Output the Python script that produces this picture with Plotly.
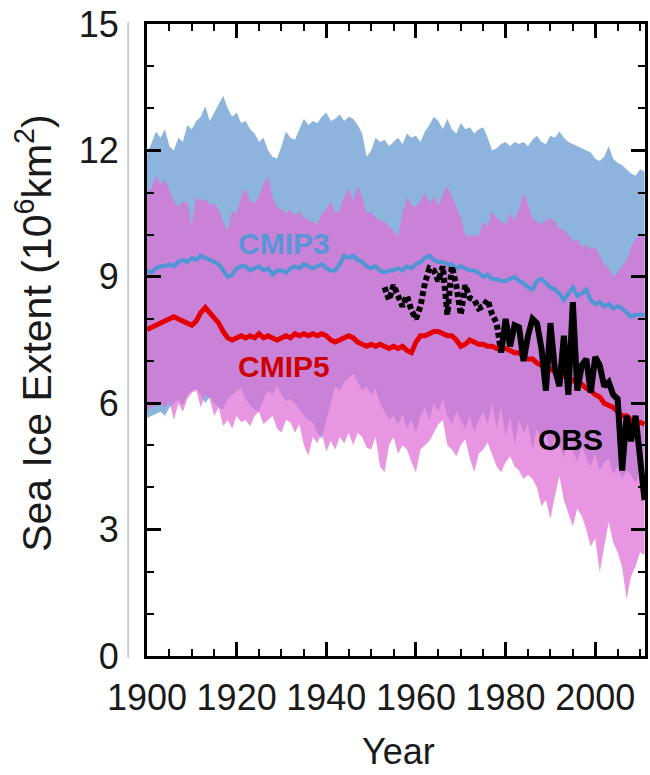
import plotly.graph_objects as go

years = list(range(1900, 2012))

cmip3_upper = [11.9, 12.2, 12.45, 12.3, 12.5, 12.1, 12.0, 12.3, 12.2, 12.6,
               12.5, 12.7, 12.8, 13.05, 12.7, 12.9, 13.1, 13.3, 13.0, 12.8,
               12.9, 12.65, 12.7, 12.5, 12.4, 12.2, 12.3, 12.0, 11.85, 11.8,
               12.1, 12.45, 12.3, 12.25, 12.5, 12.75, 12.6, 12.7, 12.65, 12.8,
               12.9, 12.7, 12.75, 12.85, 12.7, 12.8, 12.75, 12.6, 12.4, 11.85,
               12.0, 12.3, 12.2, 12.25, 12.1, 12.2, 12.3, 12.15, 12.4, 12.3,
               12.35, 12.2, 12.45, 12.6, 12.8, 12.7, 12.5, 12.75, 12.5, 12.4,
               12.65, 12.5, 12.55, 12.4, 12.5, 12.55, 12.3, 12.0, 12.05, 12.15,
               12.2, 12.1, 12.2, 12.15, 12.2, 12.1, 12.25, 12.35, 12.2, 12.15,
               12.35, 12.3, 12.45, 12.3, 12.2, 12.15, 12.1, 12.05, 12.0, 11.95,
               11.8, 11.75, 11.85, 12.1, 11.8, 11.7, 11.65, 11.55, 11.45, 11.4,
               11.55, 11.5]

cmip3_lower = [5.65, 5.7, 5.75, 5.8, 5.7, 5.9, 6.0, 6.1, 5.95, 6.2,
               6.3, 6.35, 6.2, 6.0, 6.15, 6.0, 5.9, 5.85, 6.1, 6.2,
               6.3, 6.35, 6.1, 5.95, 5.85, 5.8, 6.1, 6.3, 6.2, 6.4,
               6.2, 6.05, 6.1, 6.0, 5.85, 5.7, 5.6, 5.55, 5.3, 5.15,
               5.6, 6.0, 6.4, 6.3, 6.5, 6.6, 6.7, 6.5, 6.3, 6.4,
               6.2, 6.35, 6.0, 5.8, 5.6, 5.7, 5.5, 5.75, 5.4, 5.6,
               5.3, 5.7, 5.9, 5.6, 6.0, 5.8, 6.1, 5.7, 5.5, 5.8,
               5.6, 5.4, 5.7, 5.3, 5.6, 5.8, 5.5, 6.0, 5.4, 5.9,
               5.2, 5.7, 5.0, 5.6, 5.3, 5.5, 4.9, 5.4, 5.1, 5.3,
               4.8, 5.2, 5.0, 4.7, 5.1, 4.9, 4.6, 5.0, 4.7, 4.5,
               4.8, 4.4, 4.6, 4.7, 4.3, 4.5, 4.2, 4.4, 4.3, 4.1,
               4.4, 4.3]

cmip5_upper = [11.0, 11.1, 11.4, 11.2, 11.3, 11.05, 10.8, 10.65, 10.8, 10.75,
               10.2, 10.9, 10.8, 10.85, 10.7, 10.75, 10.6, 10.3, 10.1, 10.55,
               10.5, 10.9, 11.1, 10.8, 10.75, 10.9, 11.2, 11.4, 10.9, 10.65,
               10.6, 10.5, 10.6, 10.45, 10.55, 10.4, 10.35, 10.3, 10.25, 10.5,
               10.6, 10.8, 10.5, 10.6, 10.9, 11.1, 10.8, 11.15, 10.9, 10.5,
               10.55, 10.4, 10.35, 10.3, 10.2, 10.1, 9.95, 10.5, 10.9, 10.7,
               10.65, 10.8, 11.0, 10.75, 10.9, 10.7, 10.95, 11.15, 10.9, 10.65,
               10.4, 10.0, 9.95, 10.0, 9.95, 10.3, 10.2, 10.55, 10.4, 10.3,
               10.25, 10.5, 10.35, 10.6, 11.0, 10.7, 10.4, 10.3, 10.25, 10.35,
               10.4, 10.3, 10.15, 10.1, 10.0, 9.85, 9.9, 9.7, 9.75, 9.65,
               9.7, 9.5, 9.3, 9.2, 9.0, 9.1, 9.25, 9.4, 9.7, 9.9,
               10.0, 10.0]

cmip5_lower = [5.85, 5.9, 5.95, 6.0, 5.9, 6.05, 5.6, 6.0, 5.8, 6.1,
               6.25, 6.3, 5.9, 6.2, 6.1, 5.7, 5.9, 5.45, 5.6, 5.4,
               5.7, 5.55, 5.6, 5.45, 5.7, 5.8, 5.5, 5.6, 5.7, 5.4,
               5.3, 5.6, 5.55, 5.3, 5.5, 5.0, 4.75, 5.2, 5.05, 5.3,
               4.85, 5.1, 4.9, 5.2, 5.05, 5.3, 5.0, 5.3, 5.2, 4.95,
               4.9, 5.2, 4.5, 4.36, 5.0, 5.2, 4.8, 5.0, 4.9, 4.6,
               4.36, 4.9, 5.0, 5.1, 5.3, 5.5, 5.6, 5.0, 4.9, 4.74,
               5.0, 5.15, 4.7, 4.36, 4.8, 4.9, 5.07, 4.8, 4.5, 4.36,
               4.6, 4.74, 4.5, 4.4, 4.2, 4.3, 4.2, 4.0, 3.56, 3.7,
               3.25, 3.8, 4.27, 3.7, 3.4, 3.08, 3.5, 3.32, 3.0, 2.6,
               2.8, 1.99, 2.6, 3.18, 2.7, 2.46, 2.1, 1.35, 1.9, 2.13,
               2.46, 2.4]

cmip3_mean = [9.15, 9.1, 9.2, 9.25, 9.25, 9.3, 9.25, 9.35, 9.4, 9.35,
              9.45, 9.4, 9.5, 9.45, 9.4, 9.35, 9.3, 9.15, 9.0, 9.05,
              9.2, 9.25, 9.25, 9.15, 9.2, 9.25, 9.15, 9.2, 9.05, 9.15,
              9.15, 9.1, 9.2, 9.25, 9.2, 9.3, 9.25, 9.2, 9.25, 9.3,
              9.2, 9.15, 9.15, 9.3, 9.5, 9.45, 9.5, 9.4, 9.35, 9.25,
              9.2, 9.25, 9.15, 9.1, 9.15, 9.15, 9.2, 9.15, 9.25, 9.2,
              9.3, 9.35, 9.45, 9.5, 9.4, 9.35, 9.35, 9.3, 9.3, 9.2,
              9.25, 9.2, 9.15, 9.15, 9.1, 9.0, 9.05, 8.95, 8.95, 8.9,
              8.9, 8.95, 9.0, 8.9, 8.85, 8.75, 8.7, 8.9, 8.95, 8.85,
              8.75, 8.7, 8.6, 8.45, 8.6, 8.75, 8.55, 8.6, 8.7, 8.45,
              8.35, 8.4, 8.3, 8.35, 8.25, 8.3, 8.25, 8.15, 8.05, 8.1,
              8.1, 8.1]

cmip5_mean = [7.75, 7.8, 7.85, 7.9, 7.95, 8.0, 8.05, 8.0, 7.95, 7.9,
              7.85, 7.95, 8.15, 8.27, 8.15, 8.0, 7.9, 7.7, 7.55, 7.5,
              7.55, 7.6, 7.55, 7.6, 7.55, 7.65, 7.55, 7.6, 7.55, 7.5,
              7.55, 7.6, 7.55, 7.65, 7.6, 7.65, 7.6, 7.65, 7.6, 7.65,
              7.6, 7.5, 7.45, 7.5, 7.55, 7.6, 7.55, 7.45, 7.4, 7.35,
              7.4, 7.35, 7.4, 7.35, 7.3, 7.35, 7.3, 7.35, 7.25, 7.2,
              7.45, 7.6, 7.6, 7.65, 7.7, 7.7, 7.65, 7.6, 7.6, 7.5,
              7.35, 7.4, 7.5, 7.45, 7.4, 7.4, 7.35, 7.35, 7.3, 7.3,
              7.3, 7.25, 7.2, 7.2, 7.1, 7.05, 7.05, 6.95, 6.9, 6.9,
              6.8, 6.75, 6.75, 6.65, 6.6, 6.55, 6.45, 6.45, 6.35, 6.3,
              6.2, 6.15, 6.0, 5.95, 5.9, 5.8, 5.7, 5.7, 5.6, 5.55,
              5.55, 5.5]

obs_early_years = list(range(1953, 1980))
obs_early = [8.75, 8.45, 8.8, 8.5, 8.3, 8.55, 8.2, 8.0, 8.3, 8.85,
             9.2, 9.15, 8.9, 9.25, 8.1, 9.25, 8.8, 8.1, 8.8, 8.5,
             8.45, 8.25, 8.3, 8.45, 8.1, 7.9, 7.2]

obs_sat_years = list(range(1979, 2012))
obs_sat = [7.2, 8.0, 7.35, 7.85, 7.8, 7.0, 7.6, 8.0, 7.9, 7.3,
           6.3, 7.9, 6.8, 6.4, 7.6, 6.2, 8.4, 6.3, 6.9, 7.05,
           6.25, 7.1, 6.9, 6.4, 6.5, 6.2, 6.1, 4.4, 5.7, 5.1,
           5.7, 4.6, 3.7]

y_ticks = [0, 3, 6, 9, 12, 15]
x_ticks = [1900, 1920, 1940, 1960, 1980, 2000]

BLUE_BAND = "rgb(140,180,221)"
PINK_BAND = "rgba(224,111,214,0.73)"
BLUE_LINE = "rgb(78,150,212)"
RED_LINE = "rgb(228,0,0)"

fig = go.Figure()

# CMIP3 range
fig.add_trace(go.Scatter(x=years, y=cmip3_lower, mode="lines",
                         line=dict(width=0, color=BLUE_BAND), hoverinfo="skip",
                         showlegend=False))
fig.add_trace(go.Scatter(x=years, y=cmip3_upper, mode="lines", fill="tonexty",
                         fillcolor=BLUE_BAND, line=dict(width=0, color=BLUE_BAND),
                         hoverinfo="skip", showlegend=False))
# CMIP5 range
fig.add_trace(go.Scatter(x=years, y=cmip5_lower, mode="lines",
                         line=dict(width=0, color=PINK_BAND), hoverinfo="skip",
                         showlegend=False))
fig.add_trace(go.Scatter(x=years, y=cmip5_upper, mode="lines", fill="tonexty",
                         fillcolor=PINK_BAND, line=dict(width=0, color=PINK_BAND),
                         hoverinfo="skip", showlegend=False))
# means
fig.add_trace(go.Scatter(x=years, y=cmip3_mean, mode="lines",
                         line=dict(width=4, color=BLUE_LINE), showlegend=False))
fig.add_trace(go.Scatter(x=years, y=cmip5_mean, mode="lines",
                         line=dict(width=5, color=RED_LINE), showlegend=False))
# observations
fig.add_trace(go.Scatter(x=obs_early_years, y=obs_early, mode="lines",
                         line=dict(width=6, color="black", dash="5px,3px"),
                         showlegend=False))
fig.add_trace(go.Scatter(x=obs_sat_years, y=obs_sat, mode="lines",
                         line=dict(width=6, color="black"), showlegend=False))

FONT = "Liberation Sans, Arial, Helvetica, sans-serif"

axis_common = dict(
    showline=True, linecolor="black", linewidth=3, mirror="allticks",
    ticks="inside", ticklen=14, tickwidth=3, tickcolor="black",
    showgrid=False, zeroline=False,
    tickfont=dict(family=FONT, size=36, color="#1a1a1a"),
)

fig.update_xaxes(range=[1900, 2011.1], tickvals=x_ticks,
                 minor=dict(dtick=5, tick0=1900, ticks="inside", ticklen=7,
                            tickwidth=2, tickcolor="black"),
                 ticklabelstandoff=8, **axis_common)
fig.update_yaxes(range=[0, 15], tickvals=y_ticks,
                 minor=dict(dtick=1, tick0=0, ticks="inside", ticklen=7,
                            tickwidth=2, tickcolor="black"),
                 ticklabelstandoff=18, **axis_common)

fig.add_annotation(x=1930.6, y=9.78, xref="x", yref="y", text="<b>CMIP3</b>",
                   showarrow=False, font=dict(family=FONT, size=30, color="rgb(86,150,214)"))
fig.add_annotation(x=1930.6, y=6.88, xref="x", yref="y", text="<b>CMIP5</b>",
                   showarrow=False, font=dict(family=FONT, size=30, color="rgb(204,0,0)"))
fig.add_annotation(x=1994.5, y=5.15, xref="x", yref="y", text="<b>OBS</b>",
                   showarrow=False, font=dict(family=FONT, size=30, color="black"))

fig.add_annotation(x=-0.226, y=0.512, xref="paper", yref="paper",
                   text="Sea Ice Extent (10<sup>6</sup>km<sup>2</sup>)", textangle=-90,
                   showarrow=False, xanchor="center", yanchor="middle",
                   font=dict(family=FONT, size=41, color="#1a1a1a"))
fig.add_annotation(x=0.505, y=-0.1865, xref="paper", yref="paper", text="Year",
                   showarrow=False, xanchor="center", yanchor="bottom",
                   font=dict(family=FONT, size=36, color="#1a1a1a"))

fig.add_shape(type="line", xref="paper", yref="paper", x0=-0.038, x1=-0.038,
              y0=-0.003, y1=1.003, line=dict(color="rgb(160,160,160)", width=1))

fig.update_layout(width=650, height=775, margin=dict(l=147, r=2, t=24, b=119),
                  paper_bgcolor="white", plot_bgcolor="white")

fig.write_html("out.html")
